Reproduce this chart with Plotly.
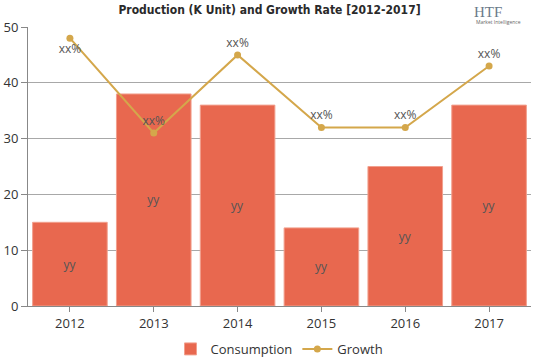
import plotly.graph_objects as go

years = ["2012", "2013", "2014", "2015", "2016", "2017"]
consumption = [15, 38, 36, 14, 25, 36]
growth = [48, 31, 45, 32, 32, 43]
bar_labels = ["yy"] * 6
growth_labels = ["xx%"] * 6
growth_label_pos = ["bottom center", "top center", "top center", "top center", "top center", "top center"]

fig = go.Figure()
fig.add_trace(go.Bar(
    x=years, y=consumption, name="Consumption",
    marker=dict(color="#E8684F", line=dict(color="#F2A08E", width=1)),
    text=bar_labels, textposition="inside", insidetextanchor="middle",
    textfont=dict(color="#555555", size=12, family="Open Sans"),
))
fig.add_trace(go.Scatter(
    x=years, y=growth, name="Growth", mode="lines+markers+text",
    line=dict(color="#D4A74B", width=2),
    marker=dict(color="#D4A74B", size=7),
    text=growth_labels, textposition=growth_label_pos,
    textfont=dict(color="#555555", size=12, family="Open Sans"),
))

fig.update_layout(
    width=539, height=359,
    margin=dict(l=28, r=8, t=27, b=53),
    paper_bgcolor="white", plot_bgcolor="white",
    bargap=0.11,
    title=dict(text="<b>Production (K Unit) and Growth Rate [2012-2017]</b>",
               x=0.5, xanchor="center", yref="container", y=0.972, yanchor="middle",
               font=dict(family="DejaVu Sans Condensed", size=12, color="#2a2a2a")),
    font=dict(family="Open Sans", size=13, color="#333333"),
    showlegend=True,
    legend=dict(orientation="h", x=0.5, xanchor="center", yref="container", y=0.028, yanchor="middle",
                font=dict(size=13, color="#333333")),
    xaxis=dict(showline=True, linecolor="#888888", ticks="outside", ticklen=5, tickcolor="#888888",
               showgrid=False, tickfont=dict(size=13), automargin=False),
    yaxis=dict(range=[0, 50], dtick=10, showline=True, linecolor="#888888", ticks="outside", ticklen=6,
               tickcolor="#888888", showgrid=True, gridcolor="#a8a8a8", gridwidth=1, zeroline=False,
               tickfont=dict(size=13), automargin=False),
)

fig.add_annotation(text="HTF", xref="paper", yref="paper", x=0.915, y=1.055, xanchor="center",
                   yanchor="middle", showarrow=False, font=dict(family="Liberation Serif", size=15, color="#6a7a8a"))
fig.add_annotation(text="Market Intelligence", xref="paper", yref="paper", x=0.935, y=1.018, xanchor="center",
                   yanchor="middle", showarrow=False, font=dict(size=5, color="#666666"))

fig.write_html("out.html", config={"displayModeBar": False})

with open("out.html", "r", encoding="utf-8") as f:
    html = f.read()
html = html.replace("<head>", "<head><style>html,body{margin:0;padding:0;overflow:hidden;}</style>", 1)
with open("out.html", "w", encoding="utf-8") as f:
    f.write(html)
